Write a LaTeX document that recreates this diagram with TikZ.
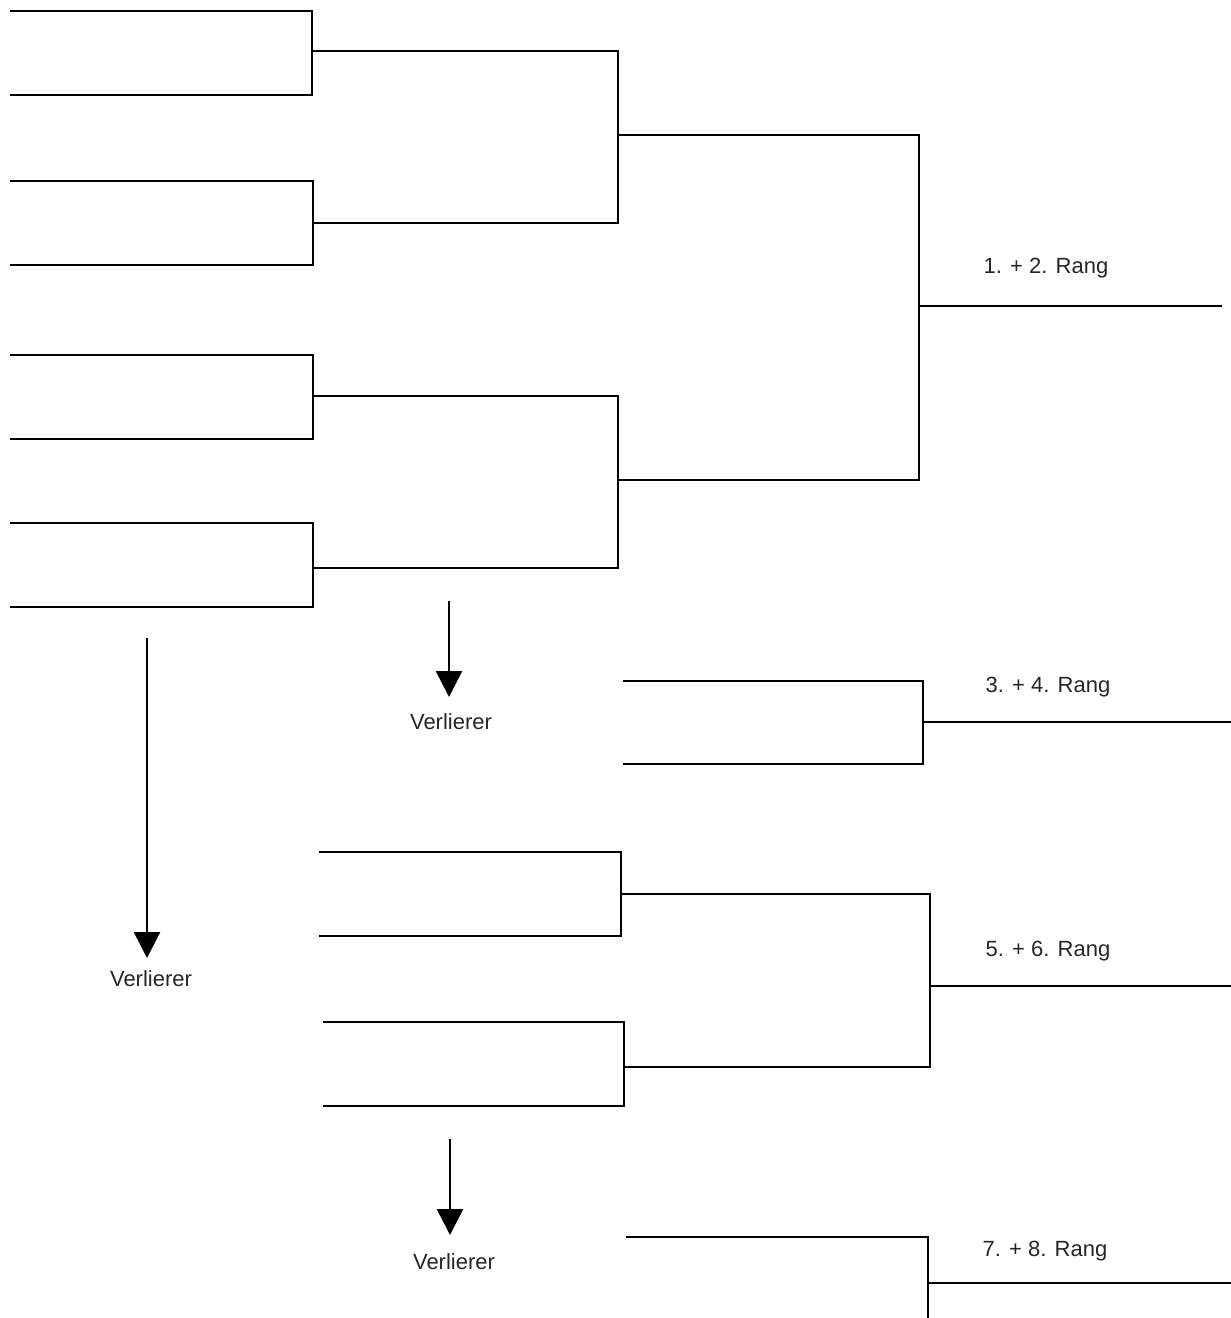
\documentclass[tikz,border=0pt]{standalone}
\usepackage{fontspec}
\setmainfont{Liberation Sans}
\usetikzlibrary{arrows.meta}
\begin{document}
\begin{tikzpicture}[x=1pt,y=-1pt,
  bline/.style={line width=2.2pt,line join=miter},
  lbl/.style={font=\fontsize{22}{26}\selectfont,text=black!85,inner sep=0pt},
  loser/.style={line width=2.6pt,-{Triangle[width=26pt,length=26pt]}}]
\useasboundingbox (0,0) rectangle (1231,1318);
% ---- round 1 ----
\coordinate (a1) at (10,11);  \coordinate (a2) at (10,95);
\coordinate (b1) at (10,181); \coordinate (b2) at (10,265);
\coordinate (c1) at (10,355); \coordinate (c2) at (10,439);
\coordinate (d1) at (10,523); \coordinate (d2) at (10,607);
\draw[bline] (a1) -- (312,11) -- (312,95) -- (a2);
\draw[bline] (b1) -- (313,181) -- (313,265) -- (b2);
\draw[bline] (c1) -- (313,355) -- (313,439) -- (c2);
\draw[bline] (d1) -- (313,523) -- (313,607) -- (d2);
\coordinate (ao) at (312,51);  \coordinate (bo) at (313,223);
\coordinate (co) at (313,396); \coordinate (do) at (313,568);
% ---- round 2 ----
\coordinate (e1) at (618,51);  \coordinate (e2) at (618,223);
\coordinate (f1) at (618,396); \coordinate (f2) at (618,568);
\draw[bline] (ao) -- (e1) -- (e2) -- (bo);
\draw[bline] (co) -- (f1) -- (f2) -- (do);
\coordinate (eo) at (618,135); \coordinate (fo) at (618,480);
% ---- final ----
\coordinate (g1) at (919,135); \coordinate (g2) at (919,480);
\draw[bline] (eo) -- (g1) -- (g2) -- (fo);
\coordinate (go) at (919,306); \coordinate (gend) at (1222,306);
\draw[bline] (go) -- (gend);
\node[lbl] (r12) at (1046,268) {1. + 2. Rang};
% ---- 3rd/4th ----
\coordinate (h1) at (623,681); \coordinate (h2) at (623,764);
\draw[bline] (h1) -- (923,681) -- (923,764) -- (h2);
\coordinate (ho) at (923,722); \coordinate (hend) at (1231,722);
\draw[bline] (ho) -- (hend);
\node[lbl] (r34) at (1048,687) {3. + 4. Rang};
% loser arrow 1
\coordinate (l1s) at (449,601); \coordinate (l1e) at (449,697);
\draw[loser] (l1s) -- (l1e);
\node[lbl] (v1) at (451,722) {Verlierer};
% big loser arrow
\coordinate (l2s) at (147,638); \coordinate (l2e) at (147,958);
\draw[loser] (l2s) -- (l2e);
\node[lbl] (v2) at (151,979) {Verlierer};
% ---- 5th-8th ----
\coordinate (i1) at (319,852);  \coordinate (i2) at (319,936);
\coordinate (j1) at (323,1022); \coordinate (j2) at (323,1106);
\draw[bline] (i1) -- (621,852) -- (621,936) -- (i2);
\draw[bline] (j1) -- (624,1022) -- (624,1106) -- (j2);
\coordinate (io) at (621,894); \coordinate (jo) at (624,1067);
\coordinate (k1) at (930,894); \coordinate (k2) at (930,1067);
\draw[bline] (io) -- (k1) -- (k2) -- (jo);
\coordinate (ko) at (930,986); \coordinate (kend) at (1231,986);
\draw[bline] (ko) -- (kend);
\node[lbl] (r56) at (1048,951) {5. + 6. Rang};
% loser arrow 3
\coordinate (l3s) at (450,1139); \coordinate (l3e) at (450,1235);
\draw[loser] (l3s) -- (l3e);
\node[lbl] (v3) at (454,1262) {Verlierer};
% ---- 7th/8th ----
\coordinate (m1) at (626,1237); \coordinate (m2) at (928,1330);
\draw[bline] (m1) -- (928,1237) -- (m2);
\coordinate (mo) at (928,1283); \coordinate (mend) at (1231,1283);
\draw[bline] (mo) -- (mend);
\node[lbl] (r78) at (1045,1251) {7. + 8. Rang};
\end{tikzpicture}
\end{document}
